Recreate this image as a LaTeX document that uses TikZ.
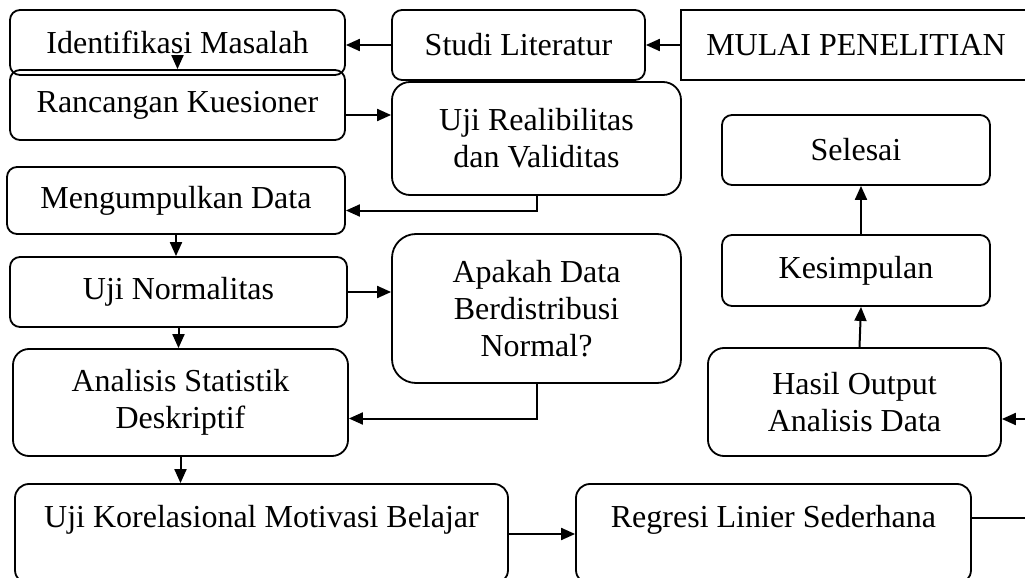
\documentclass[tikz,border=0pt]{standalone}
\usepackage{fontspec}
\setmainfont{Liberation Serif}
\usepackage{tikz}
\usetikzlibrary{arrows.meta,positioning,calc}

\begin{document}
\begin{tikzpicture}[x=1pt,y=-1pt,
  font=\fontsize{16}{18.5}\selectfont,
  box/.style={draw,line width=0.9pt,rounded corners=5pt,align=center,inner sep=0pt},
  arr/.style={line width=1pt,-{Triangle[length=7pt,width=6pt]}}]
% page frame
\useasboundingbox (0,0) rectangle (512.5,289);
\clip (0,0) rectangle (512.5,289);
% left column
\node[box,minimum width=167.5pt,minimum height=32.5pt] (ident) at (88.75,21.25) {Identifikasi Masalah};
\node[box,minimum width=167.5pt,minimum height=35pt] (ranc) at (88.75,52.5) {Rancangan Kuesioner};
\node[box,minimum width=169pt,minimum height=33.5pt] (kump) at (88,100.25) {Mengumpulkan Data};
\node[box,minimum width=168.5pt,minimum height=35pt] (norm) at (89.25,146) {Uji Normalitas};
\node[box,rounded corners=8pt,minimum width=167.5pt,minimum height=53.5pt] (anal) at (90.25,201.25) {Analisis Statistik\\Deskriptif};
% middle column
\node[box,minimum width=126.5pt,minimum height=35pt] (studi) at (259.25,22.5) {Studi Literatur};
\node[box,rounded corners=9pt,minimum width=144.5pt,minimum height=56.5pt] (reli) at (268.25,69.25) {Uji Realibilitas\\dan Validitas};
\node[box,rounded corners=12pt,minimum width=144.5pt,minimum height=74.5pt] (normq) at (268.25,154.25) {Apakah Data\\Berdistribusi\\Normal?};
% right column
\node[box,sharp corners,minimum width=175pt,minimum height=35pt] (mulai) at (428,22.5) {MULAI PENELITIAN};
\node[box,minimum width=134pt,minimum height=35pt] (selesai) at (428,75) {Selesai};
\node[box,minimum width=134pt,minimum height=35.5pt] (kes) at (428,135.25) {Kesimpulan};
\node[box,rounded corners=8pt,minimum width=146.5pt,minimum height=54pt] (hasil) at (427.25,201) {Hasil Output\\Analisis Data};
% bottom row (runs off the page)
\node[box,rounded corners=7pt,minimum width=246.5pt,minimum height=50pt,text height=11pt,text depth=17.4pt] (korel) at (130.75,267) {Uji Korelasional Motivasi Belajar};
\node[box,rounded corners=7pt,minimum width=197.5pt,minimum height=50pt,text height=11pt,text depth=17.4pt] (regr) at (386.75,267) {Regresi Linier Sederhana};
\coordinate (bend) at (522,0);
% arrows
\draw[arr] (mulai.west) -- (studi.east);
\draw[arr] (studi.west) -- (studi.west -| ident.east);
\draw[arr] ([yshift=10pt]ident.south) -- (ranc.north);
\draw[arr] ([yshift=-5pt]ranc.east) -- ([yshift=-5pt]ranc.east -| reli.west);
\draw[arr] (reli.south) |- ([yshift=-5pt]kump.east);
\draw[arr] (kump.south) -- (kump.south |- norm.north);
\draw[arr] (norm.east) -- (norm.east -| normq.west);
\draw[arr] (norm.south) -- (norm.south |- anal.north);
\draw[arr] (normq.south) |- ([yshift=-8pt]anal.east);
\draw[arr] (anal.south) -- (anal.south |- korel.north);
\draw[arr] (korel.east) -- (regr.west);
\draw[arr] ([yshift=8pt]regr.east) -- ([yshift=8pt]regr.east -| bend) |- ([yshift=-8.5pt]hasil.east);
\draw[arr] ([xshift=2.5pt]hasil.north) -- ([xshift=2.5pt]kes.south);
\draw[arr] ([xshift=2.5pt]kes.north) -- ([xshift=2.5pt]selesai.south);
\end{tikzpicture}
\end{document}
